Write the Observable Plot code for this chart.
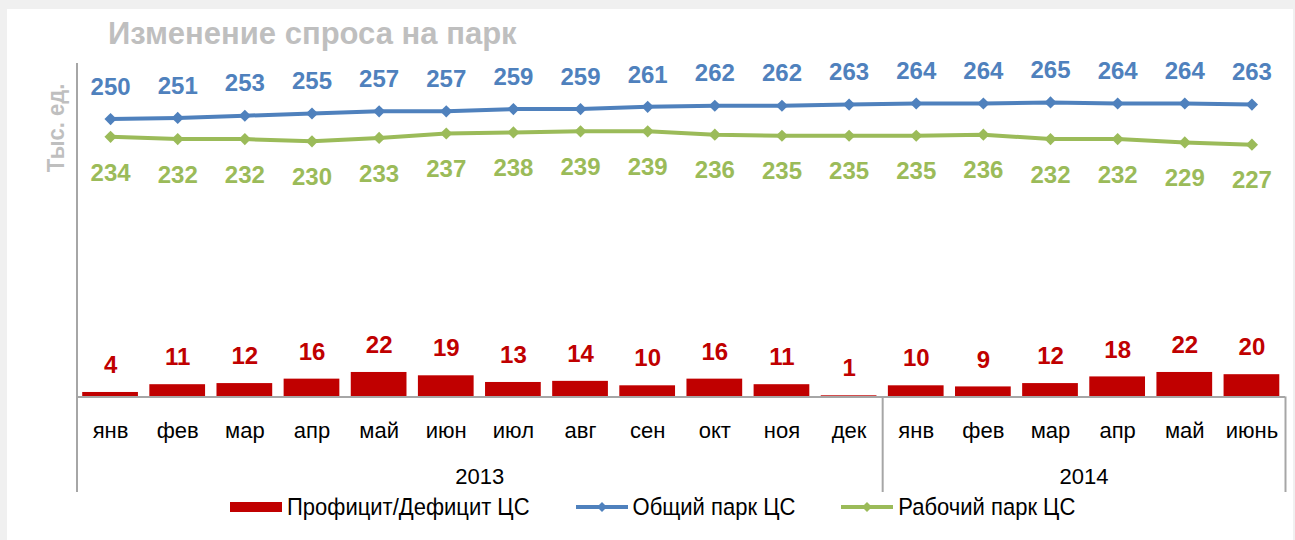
<!DOCTYPE html>
<html>
<head>
<meta charset="utf-8">
<script src="https://cdn.jsdelivr.net/npm/d3@7"></script>
<script src="https://cdn.jsdelivr.net/npm/@observablehq/plot@0.6"></script>
<style>
  html, body { margin: 0; padding: 0; }
  body { width: 1295px; height: 540px; background: #f0f0f0; position: relative; overflow: hidden;
         font-family: "Liberation Sans Narrow", "Liberation Sans", Arial, sans-serif; }
  #panel { position: absolute; left: 7px; top: 9px; width: 1286px; height: 531px; background: #fff; }
  #title { position: absolute; left: 108px; top: 16px; font-weight: bold; font-size: 31px; color: #bfbfbf; white-space: nowrap; }
  #ylabel { position: absolute; left: 56px; top: 128px; transform: translate(-50%, -50%) rotate(-90deg) scaleY(1.12);
            font-weight: bold; font-size: 22px; color: #bfbfbf; white-space: nowrap; }
  #chart { position: absolute; left: 0; top: 55px; }
  #legend { position: absolute; left: 230px; top: 494px; display: flex; align-items: center; font-size: 22px; color: #000; white-space: nowrap; }
  .item { display: flex; align-items: center; margin-right: 46px; }
  .item svg { margin-right: 5px; }
  .item span { display: inline-block; transform: scaleY(1.12); }
</style>
</head>
<body>
<div id="panel"></div>
<div id="title">Изменение спроса на парк</div>
<div id="ylabel">Тыс. ед.</div>
<div id="chart"></div>
<div id="legend"></div>
<script>
// ---- data ----
const months = ["янв","фев","мар","апр","май","июн","июл","авг","сен","окт","ноя","дек","янв","фев","мар","апр","май","июнь"];
const yearLabels = ["2013", "2014"];
const yearFirst = [0, 12];
const yearLast = [11, 17];
const surplus = [4, 11, 12, 16, 22, 19, 13, 14, 10, 16, 11, 1, 10, 9, 12, 18, 22, 20];
const totalPark = [250, 251, 253, 255, 257, 257, 259, 259, 261, 262, 262, 263, 264, 264, 265, 264, 264, 263];
const workingPark = [234, 232, 232, 230, 233, 237, 238, 239, 239, 236, 235, 235, 235, 236, 232, 232, 229, 227];
const seriesNames = ["Профицит/Дефицит ЦС", "Общий парк ЦС", "Рабочий парк ЦС"];
const colors = ["#c00000", "#4f81bd", "#9bbb59"];

const rows = months.map((m, i) => ({i, month: m, surplus: surplus[i], total: totalPark[i], working: workingPark[i]}));
const years = yearLabels.map((y, k) => ({label: y, first: yearFirst[k], last: yearLast[k]}));

const yDomain = [-86, 300];
const xDomain = [-0.5, months.length - 0.5];
const half = 0.415;
const axisColor = "#a6a6a6";
const labelFont = {fontFamily: "Liberation Sans Narrow, Liberation Sans, sans-serif"};

const chart = Plot.plot({
  width: 1295,
  height: 440,
  marginLeft: 76.5,
  marginRight: 10,
  marginTop: 8,
  marginBottom: 3,
  x: {type: "linear", domain: xDomain, axis: null},
  y: {domain: yDomain, axis: null},
  style: {background: "transparent", overflow: "visible"},
  marks: [
    Plot.rectY(rows, {x1: d => d.i - half, x2: d => d.i + half, y1: 0, y2: "surplus", fill: colors[0]}),
    Plot.ruleY([0], {stroke: axisColor, strokeWidth: 2}),
    Plot.ruleX([xDomain[0]], {stroke: axisColor, strokeWidth: 2}),
    Plot.ruleX(years.slice(1).map(d => d.first - 0.5), {y1: yDomain[0], y2: 0, stroke: axisColor, strokeWidth: 2}),
    Plot.ruleX([xDomain[1]], {y1: yDomain[0], y2: 0, stroke: axisColor, strokeWidth: 2}),
    Plot.line(rows, {x: "i", y: "total", stroke: colors[1], strokeWidth: 4}),
    Plot.dot(rows, {x: "i", y: "total", symbol: "diamond2", r: 5.5, fill: colors[1], stroke: "none"}),
    Plot.line(rows, {x: "i", y: "working", stroke: colors[2], strokeWidth: 4}),
    Plot.dot(rows, {x: "i", y: "working", symbol: "diamond2", r: 5.5, fill: colors[2], stroke: "none"}),
    Plot.text(rows, {x: "i", y: "total", text: d => String(d.total), dy: -32, fill: colors[1], fontWeight: "bold", fontSize: 24, ariaLabel: "vlabels", ...labelFont}),
    Plot.text(rows, {x: "i", y: "working", text: d => String(d.working), dy: 36, fill: colors[2], fontWeight: "bold", fontSize: 24, ariaLabel: "vlabels", ...labelFont}),
    Plot.text(rows, {x: "i", y: "surplus", text: d => String(d.surplus), dy: -27, fill: colors[0], fontWeight: "bold", fontSize: 24, ariaLabel: "vlabels", ...labelFont}),
    Plot.text(rows, {x: "i", text: "month", frameAnchor: "bottom", dy: -55, fill: "#000", fontSize: 22, ariaLabel: "ticklabels", ...labelFont}),
    Plot.text(years, {x: d => (d.first + d.last) / 2, text: "label", frameAnchor: "bottom", dy: -9, fill: "#000", fontSize: 22, ariaLabel: "ticklabels", ...labelFont})
  ]
});
document.getElementById("chart").appendChild(chart);

// stretch text vertically to match the tall condensed look of the original
function stretch(selector, k) {
  d3.select(chart).selectAll(selector).each(function() {
    const el = d3.select(this);
    const t = el.attr("transform");
    if (t) {
      el.attr("transform", t + ` scale(1,${k})`);
    } else {
      const x = +el.attr("x") || 0, y = +el.attr("y") || 0;
      el.attr("x", null).attr("y", null).attr("transform", `translate(${x},${y}) scale(1,${k})`);
    }
  });
}
stretch('g[aria-label="ticklabels"] text', 1.12);
stretch('g[aria-label="vlabels"] text', 1.05);

// legend
const legend = d3.select("#legend");
seriesNames.forEach((name, k) => {
  const item = legend.append("div").attr("class", "item");
  const sw = item.append("svg").attr("width", 52).attr("height", 14);
  if (k === 0) {
    sw.append("rect").attr("x", 0).attr("y", 2).attr("width", 52).attr("height", 10).attr("fill", colors[k]);
  } else {
    sw.append("line").attr("x1", 0).attr("x2", 52).attr("y1", 7).attr("y2", 7).attr("stroke", colors[k]).attr("stroke-width", 4);
    sw.append("path").attr("d", "M26,2L31,7L26,12L21,7Z").attr("fill", colors[k]);
  }
  item.append("span").text(name);
});
</script>
</body>
</html>
